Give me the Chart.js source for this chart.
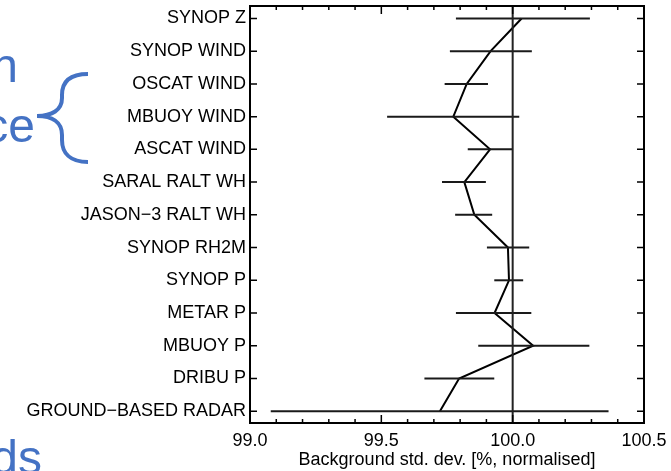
<!DOCTYPE html>
<html>
<head>
<meta charset="utf-8">
<script src="https://cdn.jsdelivr.net/npm/chart.js@4"></script>
<style>
    body{ margin:0; background:#fff; }
    #wrap{ position:relative; width:671px; height:471px; overflow:hidden; }
    #chart{ position:absolute; left:0; top:0; }
    .slide{
        position:absolute;
        font-family:"Liberation Sans", Arial, sans-serif;
        font-size:48px;
        line-height:48px;
        color:#4472C4;
        white-space:nowrap;
        text-align:right;
    }
    #brace{ position:absolute; left:0; top:0; }
</style>
</head>
<body>

<div id="wrap">
    <canvas id="chart" width="671" height="471"></canvas>

    <div class="slide" style="right:653px; top:42px;">n</div>
    <div class="slide" style="right:636px; top:102px;">ce</div>
    <div class="slide" style="right:629px; top:434px;">ds</div>

    <svg id="brace" width="100" height="180">
        <path d="M88,74 C70,74 62,82 62,95 L62,98 C62,110 52,116 37,116 C52,116 62,122 62,135 L62,140 C62,153 70,162 88,162"
              fill="none" stroke="#4472C4" stroke-width="4"/>
    </svg>
</div>

<script>

// DATA
const categories = [
    "SYNOP Z",
    "SYNOP WIND",
    "OSCAT WIND",
    "MBUOY WIND",
    "ASCAT WIND",
    "SARAL RALT WH",
    "JASON−3 RALT WH",
    "SYNOP RH2M",
    "SYNOP P",
    "METAR P",
    "MBUOY P",
    "DRIBU P",
    "GROUND−BASED RADAR"
];

const stdDev  = [100.034, 99.916, 99.825, 99.774, 99.914, 99.816, 99.854, 99.982, 99.986, 99.931, 100.078, 99.796, 99.723];
const errLow  = [99.784, 99.761, 99.741, 99.522, 99.829, 99.731, 99.781, 99.902, 99.930, 99.784, 99.869, 99.664, 99.079];
const errHigh = [100.294, 100.073, 99.906, 100.025, 100.001, 99.898, 99.922, 100.063, 100.040, 100.071, 100.292, 99.930, 100.365];

const xTickValues = [99.0, 99.5, 100.0, 100.5];
const referenceValue = 100.0;


// AXIS RANGES
const xMin = 99.0;
const xMax = 100.5;
const yMin = -0.38;
const yMax = 12.36;
const minorStep = 0.1;


// FRAME + INWARD TICKS
const frameTicks = {

    id:"frameTicks",

    afterDatasetsDraw(chart){

        const {ctx, chartArea:a, scales:{x, y}} = chart;

        ctx.save();
        ctx.strokeStyle = "#000";
        ctx.lineWidth = 2;
        ctx.strokeRect(a.left, a.top, a.right - a.left, a.bottom - a.top);

        ctx.lineWidth = 1.5;
        ctx.beginPath();

        const steps = Math.round((xMax - xMin) / minorStep);

        for(let k = 0; k <= steps; k++){

            const px = x.getPixelForValue(xMin + k * minorStep);
            const len = k % 5 === 0 ? 8 : 4;

            ctx.moveTo(px, a.bottom);
            ctx.lineTo(px, a.bottom - len);
            ctx.moveTo(px, a.top);
            ctx.lineTo(px, a.top + len);

        }

        categories.forEach((c, i) => {

            const py = y.getPixelForValue(i);

            ctx.moveTo(a.left, py);
            ctx.lineTo(a.left + 7, py);
            ctx.moveTo(a.right, py);
            ctx.lineTo(a.right - 7, py);

        });

        ctx.stroke();
        ctx.restore();

    }

};


// DATASETS
const errorBars = categories.map((c, i) => ({
    data:[{x:errLow[i], y:i}, {x:errHigh[i], y:i}],
    showLine:true,
    borderColor:"#1a1a1a",
    borderWidth:2,
    pointRadius:0
}));

const profile = {
    data:categories.map((c, i) => ({x:stdDev[i], y:i})),
    showLine:true,
    borderColor:"#000",
    borderWidth:2,
    pointRadius:0
};

const reference = {
    data:[{x:referenceValue, y:yMin}, {x:referenceValue, y:yMax}],
    showLine:true,
    borderColor:"#222",
    borderWidth:2,
    pointRadius:0
};


Chart.defaults.font.family = '"Liberation Sans", Arial, sans-serif';
Chart.defaults.font.size = 18;
Chart.defaults.color = "#000";


new Chart(

    document.getElementById("chart"),

    {
        type:"scatter",
        data:{
            datasets:[reference, ...errorBars, profile]
        },
        options:{
            responsive:false,
            animation:false,
            layout:{
                padding:{top:6, right:27, left:0, bottom:0}
            },
            plugins:{
                legend:{display:false},
                tooltip:{enabled:false}
            },
            scales:{
                x:{
                    type:"linear",
                    min:xMin,
                    max:xMax,
                    grid:{display:false, drawTicks:false},
                    border:{display:false},
                    afterBuildTicks:(axis) => {
                        axis.ticks = xTickValues.map(v => ({value:v}));
                    },
                    afterFit:(axis) => {
                        axis.height = 48;
                        axis.paddingLeft = 0;
                        axis.paddingRight = 0;
                    },
                    ticks:{
                        padding:7,
                        maxRotation:0,
                        callback:(v) => Number(v).toFixed(1)
                    },
                    title:{
                        display:true,
                        text:"Background std. dev. [%, normalised]",
                        padding:{top:0, bottom:0}
                    }
                },
                y:{
                    type:"linear",
                    reverse:true,
                    min:yMin,
                    max:yMax,
                    grid:{display:false, drawTicks:false},
                    border:{display:false},
                    afterBuildTicks:(axis) => {
                        axis.ticks = categories.map((c, i) => ({value:i}));
                    },
                    afterFit:(axis) => {
                        axis.width = 250;
                        axis.paddingTop = 0;
                        axis.paddingBottom = 0;
                    },
                    ticks:{
                        padding:4,
                        autoSkip:false,
                        callback:(v) => categories[v]
                    }
                }
            }
        },
        plugins:[frameTicks]
    }

);

</script>
</body>
</html>
